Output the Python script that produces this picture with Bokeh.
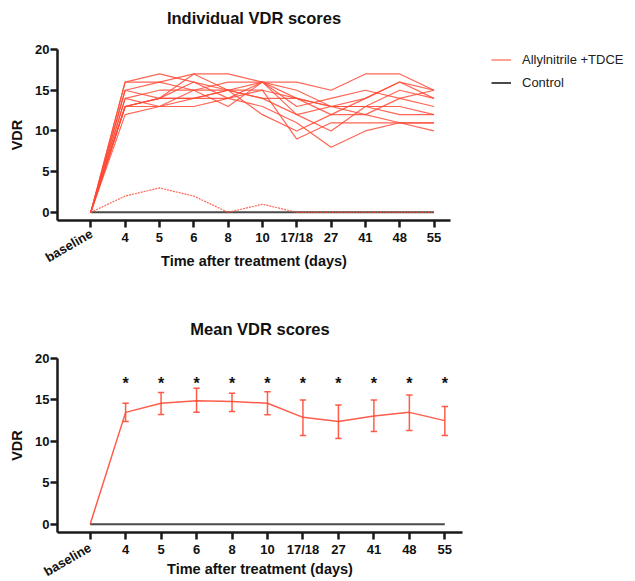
from math import pi
from bokeh.plotting import figure
from bokeh.layouts import column
from bokeh.models import Legend, LegendItem, FixedTicker, Range1d, LinearAxis, Title
from bokeh.embed import file_html
from bokeh.resources import INLINE

# ---------------- data ----------------
categories = ["baseline", "4", "5", "6", "8", "10", "17/18", "27", "41", "48", "55"]

animal_01 = [0, 16, 16, 17, 17, 16, 16, 15, 17, 17, 15]
animal_02 = [0, 16, 17, 16, 15, 16, 15, 13, 14, 16, 14]
animal_03 = [0, 15, 14, 16, 14, 16, 14, 12, 14, 16, 15]
animal_04 = [0, 15, 16, 15, 15, 14, 14, 13, 13, 15, 14]
animal_05 = [0, 14, 15, 15, 16, 16, 13, 14, 15, 14, 13]
animal_06 = [0, 13, 14, 17, 15, 15, 14, 13, 12, 14, 15]
animal_07 = [0, 13, 13, 15, 13, 16, 12, 13, 13, 12, 12]
animal_08 = [0, 13, 14, 14, 15, 12, 10, 12, 12, 11, 11]
animal_09 = [0, 12, 13, 13, 14, 15, 9, 11, 11, 11, 11]
animal_10 = [0, 13, 14, 14, 14, 13, 11, 8, 10, 11, 10]
animal_11 = [0, 14, 13, 14, 15, 14, 12, 10, 13, 13, 12]
animal_dashed = [0, 2, 3, 2, 0, 1, 0, 0, 0, 0, 0]
control_scores = [0, 0, 0, 0, 0, 0, 0, 0, 0, 0, 0]

mean_vdr = [0, 13.5, 14.6, 14.9, 14.8, 14.6, 12.9, 12.4, 13.05, 13.5, 12.5]
mean_upper = [0, 14.6, 15.9, 16.4, 15.8, 16.0, 15.0, 14.4, 15.0, 15.6, 14.2]
mean_lower = [0, 12.4, 13.25, 13.5, 13.6, 13.2, 10.7, 10.35, 11.2, 11.3, 10.7]
significant = [False, True, True, True, True, True, True, True, True, True, True]

solid_animals = [animal_01, animal_02, animal_03, animal_04, animal_05, animal_06,
                 animal_07, animal_08, animal_09, animal_10, animal_11]

xs = list(range(len(categories)))

RED = "#FF4A36"
GREY = "#4a4a4a"
INK = "#111111"
FONT = "Liberation Sans"


def style(p, title, title_gap, ylab_standoff, base_standoff, xlab_standoff, base_shift):
    p.outline_line_color = None
    p.background_fill_color = "white"
    p.border_fill_color = "white"
    p.xgrid.visible = False
    p.ygrid.visible = False
    # visible title (outermost) plus an empty spacer between it and the frame
    p.title.text = title
    p.title.align = "center"
    p.title.text_font = FONT
    p.title.text_font_style = "bold"
    p.title.text_font_size = "16.5px"
    p.title.text_color = INK
    p.title.standoff = 0
    p.add_layout(Title(text=" ", text_font_size="1px", standoff=title_gap), "above")
    for ax in (p.xaxis[0], p.yaxis[0]):
        ax.axis_line_width = 2.5
        ax.axis_line_color = "#1a1a1a"
        ax.major_tick_line_width = 2.5
        ax.major_tick_line_color = "#1a1a1a"
        ax.major_tick_in = 0
        ax.major_tick_out = 7
        ax.minor_tick_line_color = None
        ax.major_label_text_font = FONT
        ax.major_label_text_font_style = "bold"
        ax.major_label_text_font_size = "13px"
        ax.major_label_text_color = INK
        ax.axis_label_text_font = FONT
        ax.axis_label_text_font_style = "bold"
        ax.axis_label_text_font_size = "14.5px"
        ax.axis_label_text_color = INK
    xa = p.xaxis[0]
    xa.ticker = FixedTicker(ticks=xs)
    overrides = {i: c for i, c in zip(xs, categories)}
    overrides[0] = " "
    xa.major_label_overrides = overrides
    xa.major_label_standoff = 2
    ya = p.yaxis[0]
    ya.ticker = FixedTicker(ticks=[0, 5, 10, 15, 20])
    ya.major_label_standoff = 1
    ya.axis_label = "VDR"
    ya.axis_label_standoff = ylab_standoff
    # second bottom axis: slanted "baseline" label and the x-axis title
    r = p.x_range
    p.extra_x_ranges = {"base": Range1d(r.start - base_shift, r.end - base_shift)}
    bx = LinearAxis(x_range_name="base", ticker=FixedTicker(ticks=[0]),
                    major_label_overrides={0: categories[0]},
                    major_label_orientation=pi / 6,
                    axis_line_color=None, major_tick_line_color=None,
                    minor_tick_line_color=None, major_tick_in=0, major_tick_out=0,
                    major_label_standoff=base_standoff,
                    major_label_text_font=FONT, major_label_text_font_style="bold",
                    major_label_text_font_size="13px", major_label_text_color=INK,
                    axis_label="Time after treatment (days)",
                    axis_label_standoff=xlab_standoff,
                    axis_label_text_font=FONT, axis_label_text_font_style="bold",
                    axis_label_text_font_size="14.5px", axis_label_text_color=INK)
    p.add_layout(bx, "below")


# ---------------- top: individual scores ----------------
p1 = figure(frame_width=393, frame_height=171,
            min_border_left=57, min_border_right=175,
            min_border_top=49, min_border_bottom=78,
            x_range=Range1d(-0.97, 10.48), y_range=Range1d(-1, 20),
            output_backend="svg", toolbar_location=None)
style(p1, "Individual VDR scores", 20, 7, -15, -22, 0.02)

ctrl1 = p1.line(xs, control_scores, line_color=GREY, line_width=2)
red_renderers = []
for a in solid_animals:
    red_renderers.append(p1.line(xs, a, line_color=RED, line_width=1.2, line_alpha=0.85))
p1.line(xs, animal_dashed, line_color=RED, line_width=1.2, line_alpha=0.85, line_dash="2 1")

legend = Legend(items=[LegendItem(label="Allylnitrile +TDCE", renderers=[red_renderers[0]]),
                       LegendItem(label="Control", renderers=[ctrl1])],
                location=(41, 127), orientation="vertical",
                border_line_color=None, background_fill_alpha=0,
                padding=0, margin=0, spacing=2,
                glyph_width=20, glyph_height=21, label_height=21,
                label_standoff=11,
                label_text_font=FONT, label_text_font_size="13px",
                label_text_color="#222222")
p1.add_layout(legend, "right")

# ---------------- bottom: mean scores ----------------
p2 = figure(frame_width=405, frame_height=174,
            min_border_left=57, min_border_right=163,
            min_border_top=60, min_border_bottom=45,
            x_range=Range1d(-0.92, 10.498), y_range=Range1d(-1, 20),
            output_backend="svg", toolbar_location=None)
style(p2, "Mean VDR scores", 18, 7, -13, -28, 0.0)

p2.line(xs, control_scores, line_color=GREY, line_width=2)
p2.line(xs, mean_vdr, line_color=RED, line_width=1.5, line_alpha=0.9)

eb_x = [x for x, s in zip(xs, significant) if s]
eb_hi = [u for u, s in zip(mean_upper, significant) if s]
eb_lo = [l for l, s in zip(mean_lower, significant) if s]
cap = 0.09
p2.segment(eb_x, eb_lo, eb_x, eb_hi, line_color=RED, line_width=1.5, line_alpha=0.9)
p2.segment([x - cap for x in eb_x], eb_hi, [x + cap for x in eb_x], eb_hi,
           line_color=RED, line_width=1.5, line_alpha=0.9)
p2.segment([x - cap for x in eb_x], eb_lo, [x + cap for x in eb_x], eb_lo,
           line_color=RED, line_width=1.5, line_alpha=0.9)

star_y = 17.0
p2.text(eb_x, [star_y] * len(eb_x), text=["*"] * len(eb_x),
        text_align="center", text_baseline="middle",
        text_font={"value": FONT}, text_font_style="bold",
        text_font_size="16px", text_color=INK)

layout = column(p1, p2)
open("out.html", "w").write(file_html(layout, INLINE))
